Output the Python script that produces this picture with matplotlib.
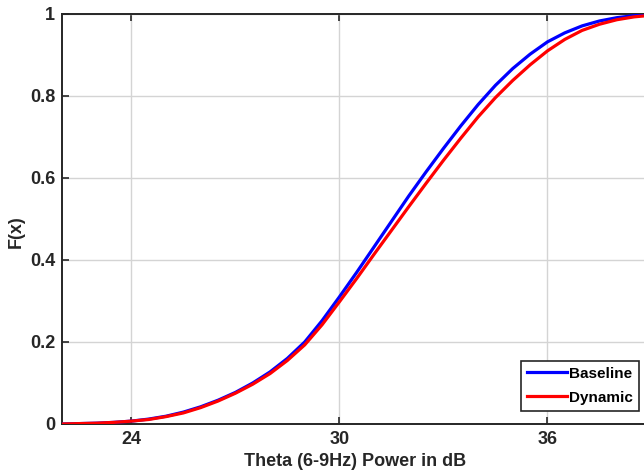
import numpy as np
import matplotlib
matplotlib.use("Agg")
import matplotlib.pyplot as plt

matplotlib.rcParams.update({
    "font.family": "Liberation Sans",
    "font.weight": "bold",
    "axes.labelweight": "bold",
})

# empirical CDF of theta power, read at 0.5 dB steps
power_db = [22.0, 22.5, 23.0, 23.5, 24.0, 24.5, 25.0, 25.5, 26.0, 26.5,
            27.0, 27.5, 28.0, 28.5, 29.0, 29.5, 30.0, 30.5, 31.0, 31.5,
            32.0, 32.5, 33.0, 33.5, 34.0, 34.5, 35.0, 35.5, 36.0, 36.5,
            37.0, 37.5, 38.0, 38.5, 39.0, 40.0]
cdf_baseline = [0.000, 0.001, 0.002, 0.004, 0.007, 0.012, 0.019, 0.029, 0.042, 0.058,
                0.077, 0.100, 0.127, 0.160, 0.200, 0.252, 0.310, 0.370, 0.432, 0.494,
                0.556, 0.615, 0.672, 0.727, 0.779, 0.826, 0.867, 0.902, 0.932, 0.954,
                0.971, 0.983, 0.991, 0.996, 0.999, 1.000]
cdf_dynamic = [0.000, 0.001, 0.002, 0.004, 0.007, 0.011, 0.018, 0.027, 0.040, 0.056,
               0.075, 0.097, 0.123, 0.155, 0.193, 0.242, 0.298, 0.355, 0.414, 0.472,
               0.530, 0.587, 0.643, 0.697, 0.749, 0.796, 0.838, 0.876, 0.910, 0.938,
               0.960, 0.975, 0.986, 0.993, 0.997, 1.000]

x_ticks = [24, 30, 36]
y_ticks = [0, 0.2, 0.4, 0.6, 0.8, 1]
y_tick_labels = ["0", "0.2", "0.4", "0.6", "0.8", "1"]

W, H = 644, 474
fig = plt.figure(figsize=(W / 100, H / 100), dpi=100)
ax = fig.add_axes([62 / W, 50 / H, 586 / W, 410 / H])

ink = "#262626"
ax.plot(power_db, cdf_baseline, color="#0000ff", lw=2.3, label="Baseline", zorder=3)
ax.plot(power_db, cdf_dynamic, color="#ff0000", lw=2.3, label="Dynamic", zorder=3)

ax.set_xlim(22, 38.9)
ax.set_ylim(0, 1)
ax.set_xticks(x_ticks)
ax.set_yticks(y_ticks)
ax.set_yticklabels(y_tick_labels)
ax.grid(True, color="#d4d4d4", lw=1.0)
ax.set_axisbelow(True)

for sp in ax.spines.values():
    sp.set_color(ink)
    sp.set_linewidth(1.4)
ax.tick_params(direction="in", length=5, width=1.2, colors=ink,
               labelsize=13, top=True, right=False, pad=5)

ax.set_xlabel("Theta (6-9Hz) Power in dB", fontsize=13, color=ink, labelpad=4)
ax.set_ylabel("F(x)", fontsize=13, color=ink)
ax.yaxis.set_label_coords(-0.063, 0.468)

leg = ax.legend(loc="lower left", bbox_to_anchor=(0.783, 0.032), fontsize=11,
                handlelength=2.6, handletextpad=0.15, borderpad=0.4,
                labelspacing=0.65, borderaxespad=0, fancybox=False, framealpha=1)
leg.get_frame().set_edgecolor(ink)
leg.get_frame().set_linewidth(1.2)

fig.savefig("out.png", dpi=100)
